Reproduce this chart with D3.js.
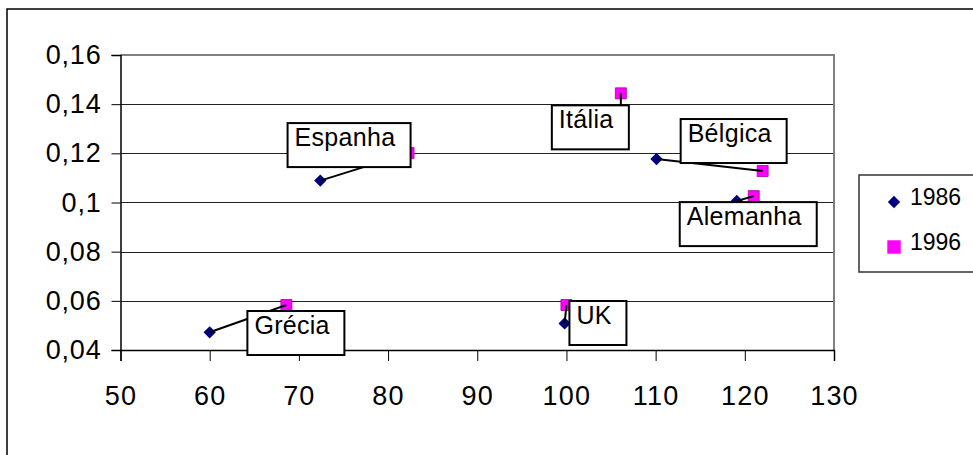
<!DOCTYPE html>
<html>
<head>
<meta charset="utf-8">
<script src="https://cdn.jsdelivr.net/npm/d3@7"></script>
<style>
    body { margin: 0; background: #fff; }
    svg text { font-family: "Liberation Sans", Arial, sans-serif; fill: #000; }
</style>
</head>
<body>
<svg id="chart" width="973" height="455"></svg>
<script>
/*
** Data
*/
var countries = ["Grécia", "Espanha", "Itália", "Bélgica", "Alemanha", "UK"];
var x1986 = [60.0, 72.4, 106.1, 110.1, 119.1, 99.8];
var y1986 = [0.0472, 0.1089, 0.1307, 0.1177, 0.1006, 0.0508];
var x1996 = [68.6, 82.3, 106.1, 122.0, 121.0, 100.0];
var y1996 = [0.0583, 0.1201, 0.1444, 0.1128, 0.1026, 0.0583];
var seriesNames = ["1986", "1996"];
var xTicks = [50, 60, 70, 80, 90, 100, 110, 120, 130];
var yTicks = [0.04, 0.06, 0.08, 0.1, 0.12, 0.14, 0.16];

/*
** Layout
*/
var svg = d3.select("#chart")
  , plot = { left: 120.5, right: 834, top: 55, bottom: 350 }
  , colors = { y1986: "#000080", y1996: "#ff00ff" }
  // label box top-left, offset (px) from the country's 1996 point
  , labelOffset = {
        "Grécia":   [-39, 6],
        "Espanha":  [-121, -30],
        "Itália":   [-69, 12],
        "Bélgica":  [-82, -52],
        "Alemanha": [-74, 6],
        "UK":       [3, -4]
    }
  , comma = d3.formatLocale({ decimal: ",", thousands: ".", grouping: [3], currency: ["", ""] })
  , yFormat = comma.format("~g")
;

var x = d3.scaleLinear().domain([50, 130]).range([plot.left, plot.right])
  , y = d3.scaleLinear().domain([0.04, 0.16]).range([plot.bottom, plot.top])
;

var rows = countries.map(function(c, i) {
    return { name: c, x0: x1986[i], y0: y1986[i], x1: x1996[i], y1: y1996[i] };
});

// outer chart frame (runs off the right / bottom edge)
svg.append("rect")
    .attr("x", 7).attr("y", 9)
    .attr("width", 1100).attr("height", 600)
    .attr("fill", "none")
    .attr("stroke", "#000")
    .attr("stroke-width", 1.5)
;

// gridlines
svg.append("g")
    .attr("class", "grid")
  .selectAll("line")
    .data(yTicks.slice(1, -1))
  .enter().append("line")
    .attr("x1", plot.left).attr("x2", plot.right)
    .attr("y1", function(d) { return Math.round(y(d)) + 0.5; })
    .attr("y2", function(d) { return Math.round(y(d)) + 0.5; })
    .attr("stroke", "#222")
    .attr("stroke-width", 1)
;

// plot area border (top + right), grey
svg.append("path")
    .attr("d", "M" + plot.left + "," + plot.top + "H" + plot.right + "V" + plot.bottom)
    .attr("fill", "none")
    .attr("stroke", "#808080")
    .attr("stroke-width", 2)
;

// y axis
var yAxis = d3.axisLeft(y)
    .tickValues(yTicks)
    .tickSize(9)
    .tickPadding(10)
    .tickFormat(yFormat)
;
svg.append("g")
    .attr("transform", "translate(" + plot.left + ",0)")
    .call(yAxis)
    .call(function(g) {
        g.select(".domain").attr("stroke", "#000").attr("stroke-width", 1.5);
        g.selectAll(".tick line").attr("stroke", "#000");
        g.selectAll("text")
            .attr("font-size", 27)
            .attr("font-family", null)
            .attr("letter-spacing", 0.8);
    })
;

// x axis
var xAxis = d3.axisBottom(x)
    .tickValues(xTicks)
    .tickSize(11)
    .tickPadding(25)
;
svg.append("g")
    .attr("transform", "translate(0," + plot.bottom + ")")
    .call(xAxis)
    .call(function(g) {
        g.select(".domain").attr("stroke", "#000").attr("stroke-width", 1.5);
        g.selectAll(".tick line").attr("stroke", "#000");
        g.selectAll("text")
            .attr("font-size", 27)
            .attr("font-family", null)
            .attr("letter-spacing", 1.2);
    })
;

/*
** Markers
*/
var diamond = d3.symbol().type(d3.symbolSquare).size(76)
  , square = d3.symbol().type(d3.symbolSquare).size(121)
;

svg.append("g").attr("class", "s1986")
  .selectAll("path")
    .data(rows)
  .enter().append("path")
    .attr("d", diamond)
    .attr("transform", function(d) {
        return "translate(" + x(d.x0) + "," + y(d.y0) + ") rotate(45)";
      })
    .attr("fill", colors.y1986)
;

svg.append("g").attr("class", "s1996")
  .selectAll("path")
    .data(rows)
  .enter().append("path")
    .attr("d", square)
    .attr("transform", function(d) {
        return "translate(" + x(d.x1) + "," + y(d.y1) + ")";
      })
    .attr("fill", colors.y1996)
    .attr("stroke", "#a000a0")
    .attr("stroke-width", 0.8)
;

// connector lines 1986 -> 1996
svg.append("g").attr("class", "links")
  .selectAll("line")
    .data(rows)
  .enter().append("line")
    .attr("x1", function(d) { return x(d.x0); })
    .attr("y1", function(d) { return y(d.y0); })
    .attr("x2", function(d) { return x(d.x1); })
    .attr("y2", function(d) { return y(d.y1); })
    .attr("stroke", "#000")
    .attr("stroke-width", 2)
;

/*
** Country label boxes
*/
var labels = svg.append("g").attr("class", "labels")
  .selectAll("g")
    .data(rows)
  .enter().append("g")
    .attr("transform", function(d) {
        var o = labelOffset[d.name];
        return "translate(" + (x(d.x1) + o[0]) + "," + (y(d.y1) + o[1]) + ")";
      })
;
labels.append("rect")
    .attr("height", 44)
    .attr("fill", "#fff")
    .attr("stroke", "#000")
    .attr("stroke-width", 2)
;
labels.append("text")
    .attr("x", 7)
    .attr("y", 23)
    .attr("font-size", 25)
    .attr("letter-spacing", 0.3)
    .text(function(d) { return d.name; })
;
labels.each(function() {
    var g = d3.select(this)
      , w = g.select("text").node().getComputedTextLength();
    g.select("rect").attr("width", Math.round(w + 22));
});

/*
** Legend
*/
var legend = svg.append("g").attr("class", "legend");
legend.append("rect")
    .attr("x", 859).attr("y", 175)
    .attr("width", 200).attr("height", 97)
    .attr("fill", "#fff")
    .attr("stroke", "#333")
    .attr("stroke-width", 1.5)
;
var items = legend.selectAll("g.item")
    .data(seriesNames)
  .enter().append("g")
    .attr("class", "item")
    .attr("transform", function(d, i) { return "translate(894," + (202 + i * 45) + ")"; })
;
items.append("path")
    .attr("d", function(d, i) {
        return i === 0 ? diamond() : d3.symbol().type(d3.symbolSquare).size(180)();
      })
    .attr("transform", function(d, i) { return i === 0 ? "rotate(45)" : null; })
    .attr("fill", function(d, i) { return i === 0 ? colors.y1986 : colors.y1996; })
;
items.append("text")
    .attr("x", 16)
    .attr("y", 3)
    .attr("font-size", 23)
    .text(function(d) { return d; })
;
</script>
</body>
</html>
